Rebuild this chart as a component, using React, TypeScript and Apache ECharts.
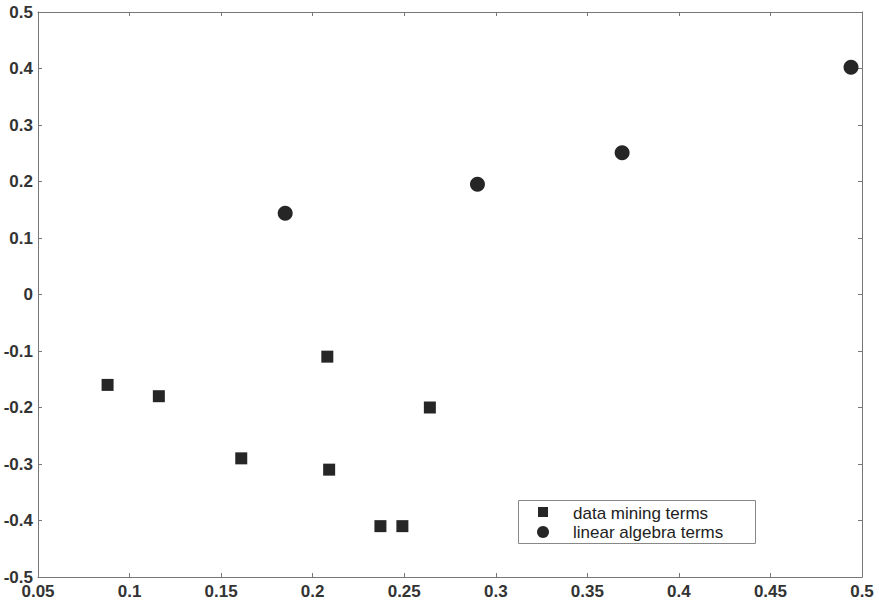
import React, { useEffect, useRef } from "react";
import * as echarts from "echarts";

const dataMiningX = [0.088, 0.116, 0.161, 0.208, 0.209, 0.237, 0.249, 0.264];
const dataMiningY = [-0.16, -0.18, -0.29, -0.11, -0.31, -0.41, -0.41, -0.2];
const linearAlgebraX = [0.185, 0.29, 0.369, 0.494];
const linearAlgebraY = [0.144, 0.195, 0.251, 0.402];
const legendLabels = ["data mining terms", "linear algebra terms"];

const FONT = "'Liberation Sans', Arial, sans-serif";

export default function App() {
  const ref = useRef<HTMLDivElement>(null);
  useEffect(() => {
    if (!ref.current) return;
    const chart = echarts.init(ref.current, null, { renderer: "svg" });
    const axisLine = { show: true, onZero: false, lineStyle: { color: "#777", width: 1 } };
    const tick = { show: true, inside: true, length: 4, lineStyle: { color: "#777" } };
    const label = { color: "#333", fontSize: 17, fontWeight: "bold" as const, fontFamily: FONT };
    chart.setOption({
      animation: false,
      backgroundColor: "#fff",
      grid: { left: 38, right: 17, top: 12, bottom: 24, show: false },
      xAxis: [
        {
          type: "value", min: 0.05, max: 0.5, interval: 0.05, position: "bottom",
          axisLine, axisTick: tick,
          axisLabel: { ...label, margin: 6 }, splitLine: { show: false },
        },
        {
          type: "value", min: 0.05, max: 0.5, interval: 0.05, position: "top",
          axisLine, axisTick: tick,
          axisLabel: { show: false }, splitLine: { show: false },
        },
      ],
      yAxis: [
        {
          type: "value", min: -0.5, max: 0.5, interval: 0.1, position: "left",
          axisLine, axisTick: tick,
          axisLabel: { ...label, margin: 5 }, splitLine: { show: false },
        },
        {
          type: "value", min: -0.5, max: 0.5, interval: 0.1, position: "right",
          axisLine, axisTick: tick,
          axisLabel: { show: false }, splitLine: { show: false },
        },
      ],
      series: [
        {
          name: legendLabels[0], type: "scatter", symbol: "rect", symbolSize: 12,
          itemStyle: { color: "#262626", opacity: 1 },
          data: dataMiningX.map((x, i) => [x, dataMiningY[i]]),
        },
        {
          name: legendLabels[1], type: "scatter", symbol: "circle", symbolSize: 15,
          itemStyle: { color: "#262626", opacity: 1 },
          data: linearAlgebraX.map((x, i) => [x, linearAlgebraY[i]]),
        },
      ],
      graphic: [
        {
          type: "rect", left: 518, top: 500, z: 100,
          shape: { width: 237, height: 43 },
          style: { fill: "#fff", stroke: "#888", lineWidth: 1 },
        },
        {
          type: "rect", z: 101, shape: { x: 538, y: 507, width: 10, height: 10 },
          style: { fill: "#262626" },
        },
        {
          type: "circle", z: 101, shape: { cx: 543, cy: 532, r: 6 },
          style: { fill: "#262626" },
        },
        {
          type: "text", z: 101, x: 573, y: 513,
          style: { text: legendLabels[0], fill: "#222", font: `17px ${FONT}`, verticalAlign: "middle" },
        },
        {
          type: "text", z: 101, x: 573, y: 532,
          style: { text: legendLabels[1], fill: "#222", font: `17px ${FONT}`, verticalAlign: "middle" },
        },
      ],
    });
    return () => chart.dispose();
  }, []);
  return (
    <div
      ref={ref}
      style={{ position: "fixed", left: 0, top: 0, width: 879, height: 601 }}
    />
  );
}
